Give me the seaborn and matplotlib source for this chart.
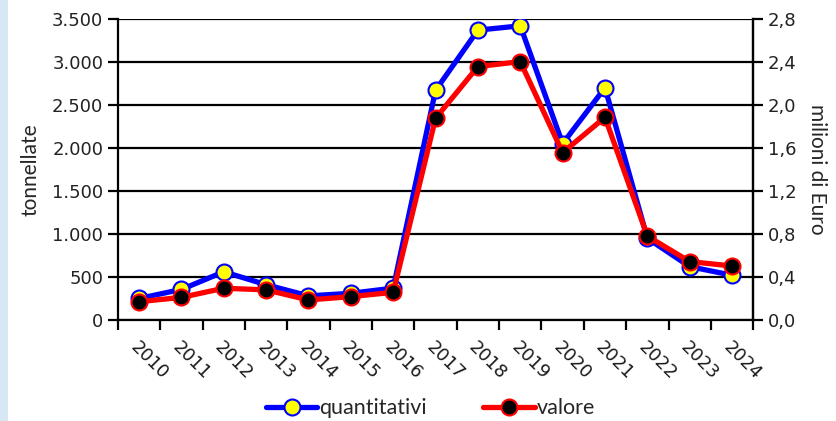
import numpy as np
import pandas as pd
import matplotlib
matplotlib.use('Agg')
import matplotlib.pyplot as plt
import seaborn as sns
from matplotlib.ticker import FuncFormatter
from matplotlib.patches import Rectangle

anni = [str(a) for a in range(2010, 2025)]
quantitativi = [250, 355, 560, 410, 280, 310, 370, 2670, 3370, 3420, 2050, 2700, 950, 620, 520]
valore = [0.17, 0.21, 0.295, 0.28, 0.186, 0.217, 0.257, 1.876, 2.357, 2.403, 1.557, 1.885, 0.78, 0.543, 0.502]
ticks_sx = [0, 500, 1000, 1500, 2000, 2500, 3000, 3500]
ticks_dx = [0.0, 0.4, 0.8, 1.2, 1.6, 2.0, 2.4, 2.8]

df = pd.DataFrame({'anno': anni, 'quantitativi': quantitativi, 'valore': valore})

sns.set_style('ticks')
plt.rcParams['font.family'] = ['DejaVu Sans']

fig = plt.figure(figsize=(8.36, 4.21), dpi=100)
ax = fig.add_axes([0.141, 0.240, 0.760, 0.715])
ax2 = ax.twinx()

sns.lineplot(data=df, x='anno', y='quantitativi', ax=ax, color='#0000ff', lw=3.8,
             marker='o', markersize=11.5, markerfacecolor='#ffff00',
             markeredgecolor='#0000ff', markeredgewidth=1.5, legend=False)
sns.lineplot(data=df, x='anno', y='valore', ax=ax2, color='#ff0000', lw=3.8,
             marker='o', markersize=11.5, markerfacecolor='black',
             markeredgecolor='#ff0000', markeredgewidth=1.5, legend=False)

n = len(anni)
ax.set_xlim(-0.5, n - 0.5)
ax.set_ylim(0, 3500)
ax2.set_ylim(0, 2.8)
ax.set_yticks(ticks_sx)
ax2.set_yticks(ticks_dx)
ax.yaxis.set_major_formatter(FuncFormatter(lambda v, p: f'{int(v):,}'.replace(',', '.')))
ax2.yaxis.set_major_formatter(FuncFormatter(lambda v, p: f'{v:.1f}'.replace('.', ',')))

ax.set_xticks(np.arange(-0.5, n, 1.0))
ax.set_xticklabels([])
ax.set_xticks(np.arange(n), minor=True)
ax.set_xticklabels(anni, minor=True, rotation=-45, ha='left', rotation_mode='anchor')
ax.tick_params(axis='x', which='minor', length=0, pad=13, labelsize=13, labelcolor='#1a1a1a')
ax.tick_params(axis='x', which='major', direction='out', length=7, width=1.6, color='black')
ax.tick_params(axis='y', direction='out', length=7, width=1.6, color='black', labelsize=13,
               labelcolor='#222222')
ax2.tick_params(axis='y', direction='out', length=7, width=1.6, color='black', labelsize=13,
                labelcolor='#222222')

ax.yaxis.grid(True, color='black', lw=1.6)
ax.set_axisbelow(True)

for a in (ax, ax2):
    a.spines['top'].set_visible(False)
    for s in ('left', 'right', 'bottom'):
        a.spines[s].set_color('black')
        a.spines[s].set_linewidth(1.6)
ax2.spines['left'].set_visible(False)
ax2.spines['bottom'].set_visible(False)

ax.set_xlabel('')
ax.set_ylabel('tonnellate', fontsize=15, family='Lato', labelpad=8)
ax2.set_ylabel('milioni di Euro', fontsize=15, family='Lato', rotation=-90, labelpad=22)

fig.legend([ax.lines[0], ax2.lines[0]], ['quantitativi', 'valore'],
           loc='lower center', bbox_to_anchor=(0.515, -0.04), ncol=2, frameon=False,
           handlelength=2.4, handletextpad=0.1, columnspacing=2.6,
           prop={'family': 'Lato', 'size': 15.5})

fig.add_artist(Rectangle((0, 0), 0.009, 1, transform=fig.transFigure, color='#d6e8f3', lw=0))

fig.savefig('out.png', dpi=100)
